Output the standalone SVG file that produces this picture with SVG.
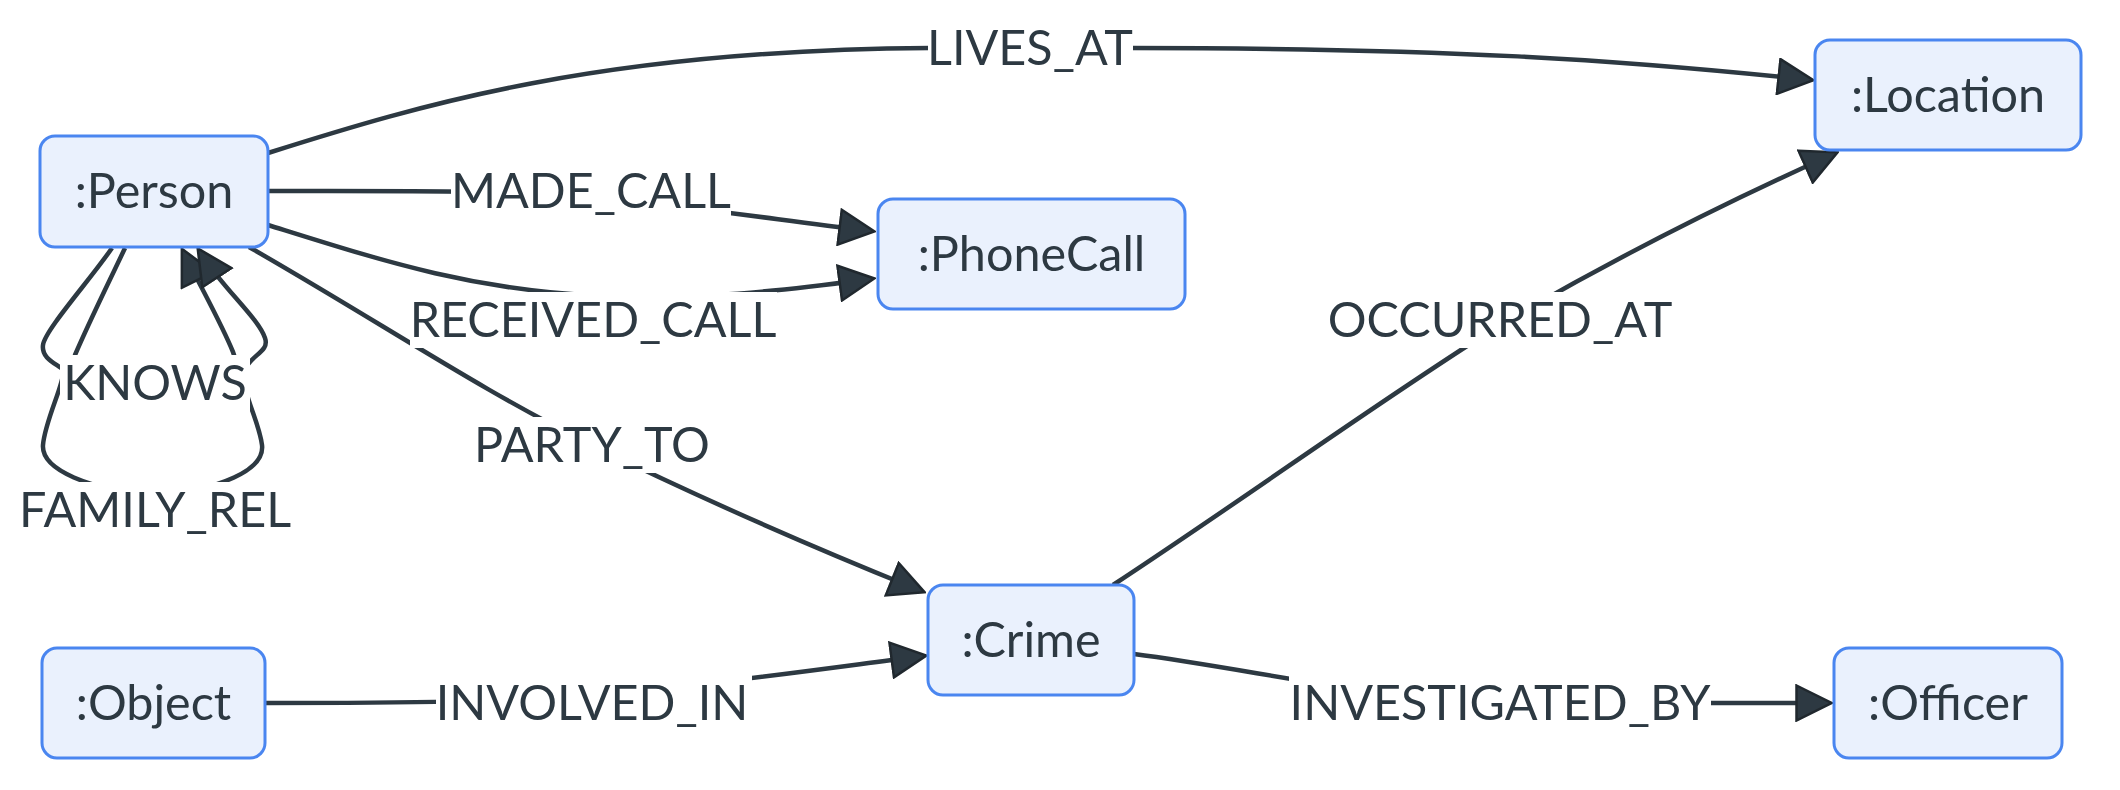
<svg xmlns="http://www.w3.org/2000/svg" width="2120" height="790" viewBox="0 0 2120 790">
<style>
.node rect{fill:#eaf1fd;stroke:#4a86f0;stroke-width:3}
.node text,.lbl text{font-family:Lato,"Liberation Sans",sans-serif;font-size:48.5px;fill:#2d3942;text-anchor:middle}
.edge{fill:none;stroke:#2d3942;stroke-width:4.5;marker-end:url(#arr)}
.lbl rect{fill:#ffffff}
</style>
<defs>
<marker id="arr" markerUnits="userSpaceOnUse" viewBox="0 0 38 38" markerWidth="38" markerHeight="38" refX="25" refY="19" orient="auto">
<path d="M1.5,1.5 L36.5,19 L1.5,36.5 z" fill="#2d3942" stroke="#20282e" stroke-width="2.5" stroke-linejoin="miter"/>
</marker>
</defs>
<rect width="2120" height="790" fill="#ffffff"/>
<g id="edges">
<path class="edge" d="M268,153 C420,105 600,50 930,48 L1130,48 C1450,48 1620,60 1802,79"/>
<path class="edge" d="M268,191 C400,191 520,190 600,198 C700,208 780,220 863,230"/>
<path class="edge" d="M268,225 C380,260 470,290 600,296 C700,300 780,291 863,280"/>
<path class="edge" d="M249,247 C380,322 480,390 592,445 C700,498 820,550 914,588"/>
<path class="edge" d="M125,248 C110,280 90,320 75,355 C65,380 100,395 155,395 C210,395 245,380 233,352 C222,325 205,295 187,259"/>
<path class="edge" d="M112,248 C90,280 45,330 43,345 C41,360 60,365 63,370 C66,380 45,420 43,445 C41,470 90,490 155,495 C220,490 265,470 262,445 C259,420 240,390 245,370 C250,355 270,352 265,338 C258,318 225,290 204,258"/>
<path class="edge" d="M1113,585 C1250,495 1380,400 1500,325 C1620,255 1720,205 1827,157"/>
<path class="edge" d="M266,703 C400,703 520,702 600,695 C700,686 800,672 915,657"/>
<path class="edge" d="M1134,654 C1250,669 1380,700 1500,703 L1820,703"/>
</g>
<g id="edge-labels">
<g class="lbl"><rect x="928" y="20" width="205" height="56"/><text x="1030" y="65">LIVES_AT</text></g>
<g class="lbl"><rect x="451" y="163" width="280" height="56"/><text x="591" y="208">MADE_CALL</text></g>
<g class="lbl"><rect x="410" y="292" width="367" height="56"/><text x="593" y="337">RECEIVED_CALL</text></g>
<g class="lbl"><rect x="477" y="417" width="231" height="56"/><text x="592" y="462">PARTY_TO</text></g>
<g class="lbl"><rect x="60" y="355" width="190" height="56"/><text x="155" y="400">KNOWS</text></g>
<g class="lbl"><rect x="18" y="482" width="274" height="56"/><text x="155" y="527">FAMILY_REL</text></g>
<g class="lbl"><rect x="1326" y="292" width="348" height="56"/><text x="1500" y="337">OCCURRED_AT</text></g>
<g class="lbl"><rect x="436" y="675" width="316" height="56"/><text x="592" y="720">INVOLVED_IN</text></g>
<g class="lbl"><rect x="1289" y="675" width="422" height="56"/><text x="1500" y="720">INVESTIGATED_BY</text></g>
</g>
<g id="person" class="node"><rect x="40" y="136" width="228" height="111" rx="15"/><text x="154" y="208">:Person</text></g>
<g id="phonecall" class="node"><rect x="878" y="199" width="307" height="110" rx="15"/><text x="1031.5" y="271">:PhoneCall</text></g>
<g id="location" class="node"><rect x="1815" y="40" width="266" height="110" rx="15"/><text x="1948" y="112">:Location</text></g>
<g id="crime" class="node"><rect x="928" y="585" width="206" height="110" rx="15"/><text x="1031" y="657">:Crime</text></g>
<g id="object" class="node"><rect x="42" y="648" width="223" height="110" rx="15"/><text x="153.5" y="720">:Object</text></g>
<g id="officer" class="node"><rect x="1834" y="648" width="228" height="110" rx="15"/><text x="1948" y="720">:Officer</text></g>
</svg>
